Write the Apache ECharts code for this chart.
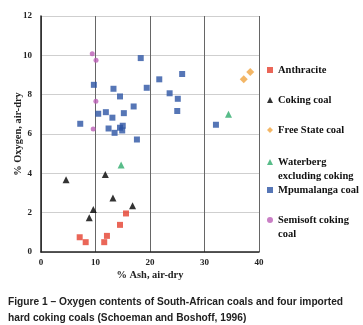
<!DOCTYPE html>
<html>
<head>
<meta charset="utf-8">
<script src="https://cdn.jsdelivr.net/npm/echarts@6/dist/echarts.min.js"></script>
<style>
  html, body { margin: 0; padding: 0; background: #fff; }
  #chart { width: 363px; height: 325px; }
</style>
</head>
<body>
<div id="chart"></div>
<script>
// [ash %, oxygen %]
var anthracite = [[15.6, 1.96], [14.5, 1.38], [12.1, 0.82], [7.1, 0.75], [8.2, 0.5], [11.6, 0.5]];
var cokingCoal = [[4.6, 3.67], [11.8, 3.94], [13.2, 2.75], [16.8, 2.35], [9.6, 2.16], [8.85, 1.74]];
var freeState = [[38.4, 9.15], [37.2, 8.79]];
var waterberg = [[14.7, 4.42], [34.4, 7.01]];
var mpumalanga = [
    [18.3, 9.86], [9.7, 8.5], [13.3, 8.3], [19.4, 8.35], [14.5, 7.91], [17.0, 7.4],
    [15.2, 7.06], [10.5, 7.03], [11.9, 7.11], [13.1, 6.83], [7.2, 6.52], [12.4, 6.28],
    [15.0, 6.42], [14.5, 6.32], [14.9, 6.18], [13.5, 6.06], [17.6, 5.72],
    [25.9, 9.05], [21.7, 8.78], [23.6, 8.07], [25.1, 7.79], [25.0, 7.17], [32.1, 6.47]
];
var semisoft = [[9.4, 10.08], [10.1, 9.75], [10.07, 7.67], [9.58, 6.25]];

var xTicks = { min: 0, max: 40, interval: 10 };
var yTicks = { min: 0, max: 12, interval: 2 };

var serif = '"Liberation Serif", "DejaVu Serif", serif';
var chart = echarts.init(document.getElementById('chart'));

// one legend per entry so each one sits where it does in the figure
function legendAt(name, icon, top) {
    return {
        data: [name],
        left: 267,
        top: top,
        padding: 0,
        icon: icon,
        itemWidth: 6,
        itemHeight: 6,
        selectedMode: false,
        formatter: function(n) {
            // leading empty line keeps the marker on the first text line
            if (n === 'Waterberg excluding coking') return '\nWaterberg\nexcluding coking';
            if (n === 'Semisoft coking coal') return '\nSemisoft coking\ncoal';
            return n;
        },
        textStyle: {
            color: '#111',
            fontFamily: serif,
            fontWeight: 'bold',
            fontSize: 10.5,
            lineHeight: 14
        }
    };
}

var option = {
    backgroundColor: '#fff',
    animation: false,
    title: {
        text: 'Figure 1 \u2013 Oxygen contents of South-African coals and four imported\nhard coking coals (Schoeman and Boshoff, 1996)',
        left: 8,
        top: 294,
        padding: 0,
        textStyle: {
            color: '#222',
            fontFamily: '"Liberation Sans", Arial, sans-serif',
            fontWeight: 'bold',
            fontSize: 10.2,
            lineHeight: 16
        }
    },
    legend: [
        legendAt('Anthracite', 'rect', 63),
        legendAt('Coking coal', 'triangle', 93),
        legendAt('Free State coal', 'diamond', 123),
        legendAt('Waterberg excluding coking', 'triangle', 141),
        legendAt('Mpumalanga coal', 'rect', 183),
        legendAt('Semisoft coking coal', 'circle', 199)
    ],
    grid: {
        left: 41,
        top: 16,
        right: 104,
        bottom: 73,
        outerBoundsMode: 'none'
    },
    xAxis: {
        type: 'value',
        min: xTicks.min,
        max: xTicks.max,
        interval: xTicks.interval,
        name: '% Ash, air-dry',
        nameLocation: 'middle',
        nameGap: 18,
        nameMoveOverlap: false,
        nameTextStyle: { color: '#222', fontFamily: serif, fontWeight: 'bold', fontSize: 10.4 },
        axisLine: { show: true, onZero: false, lineStyle: { color: '#222', width: 1.5 } },
        axisTick: { show: false },
        axisLabel: { color: '#222', fontFamily: serif, fontWeight: 'bold', fontSize: 9, margin: 6 },
        splitLine: { show: true, lineStyle: { color: '#666', width: 1 } }
    },
    yAxis: {
        type: 'value',
        min: yTicks.min,
        max: yTicks.max,
        interval: yTicks.interval,
        name: '% Oxygen, air-dry',
        nameLocation: 'middle',
        nameGap: 18,
        nameMoveOverlap: false,
        nameTextStyle: { color: '#222', fontFamily: serif, fontWeight: 'bold', fontSize: 10.4 },
        axisLine: { show: true, onZero: false, lineStyle: { color: '#222', width: 1.5 } },
        axisTick: { show: false },
        axisLabel: { color: '#222', fontFamily: serif, fontWeight: 'bold', fontSize: 9, margin: 9 },
        splitLine: { show: true, lineStyle: { color: '#cfcfcf', width: 1 } }
    },
    series: [
        { name: 'Anthracite', type: 'scatter', data: anthracite, symbol: 'rect', symbolSize: 6,
          itemStyle: { color: '#e5402e' } },
        { name: 'Coking coal', type: 'scatter', data: cokingCoal, symbol: 'triangle', symbolSize: 7,
          itemStyle: { color: '#000' } },
        { name: 'Free State coal', type: 'scatter', data: freeState, symbol: 'diamond', symbolSize: 8,
          itemStyle: { color: '#f0a440' } },
        { name: 'Waterberg excluding coking', type: 'scatter', data: waterberg, symbol: 'triangle', symbolSize: 7,
          itemStyle: { color: '#2eab6c' } },
        { name: 'Mpumalanga coal', type: 'scatter', data: mpumalanga, symbol: 'rect', symbolSize: 6,
          itemStyle: { color: '#2c54a4' } },
        { name: 'Semisoft coking coal', type: 'scatter', data: semisoft, symbol: 'circle', symbolSize: 5,
          itemStyle: { color: '#bb5fb6' } }
    ]
};
chart.setOption(option);
</script>
</body>
</html>
